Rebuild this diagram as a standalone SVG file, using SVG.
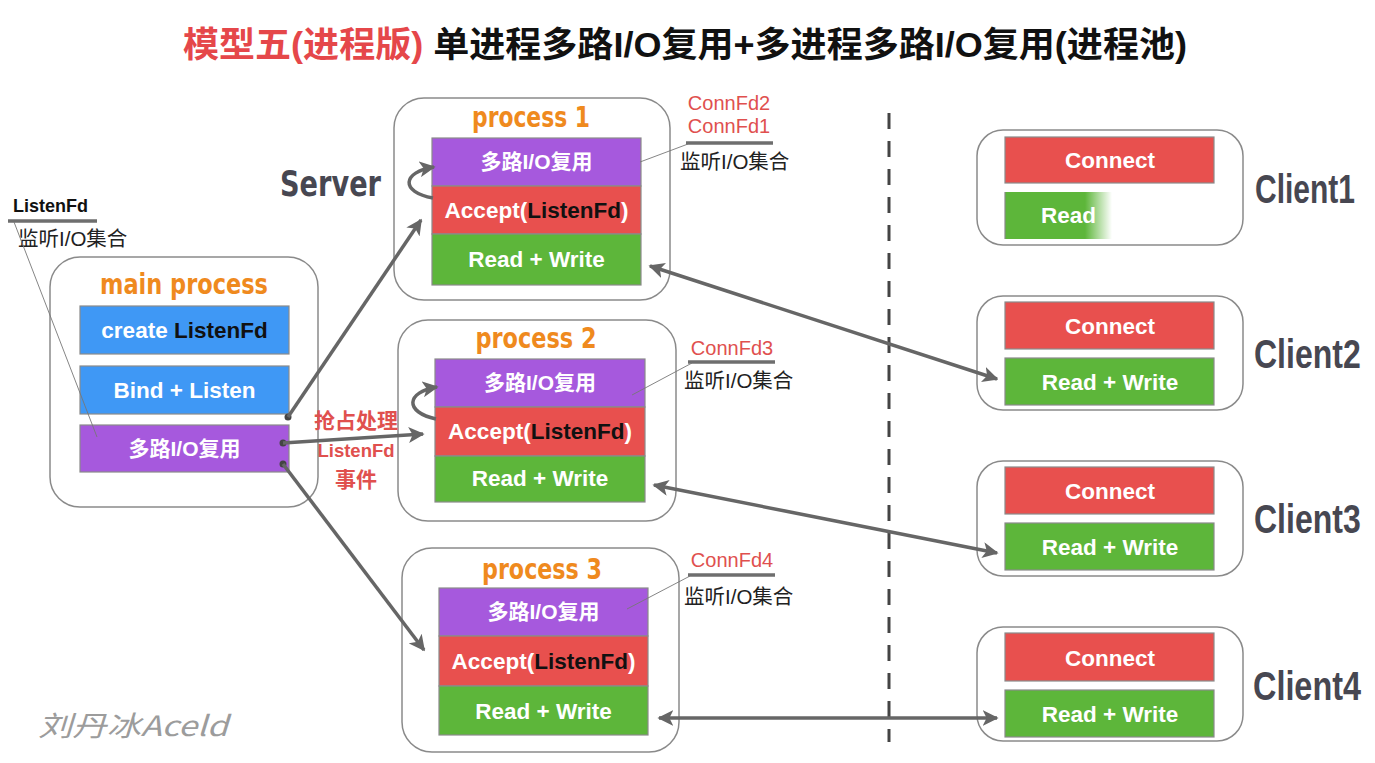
<svg xmlns="http://www.w3.org/2000/svg" width="1375" height="763" viewBox="0 0 1375 763">
<defs>
<style>
.outer{fill:#fff;stroke:#8a8a8a;stroke-width:1.5}
.box{stroke:#8a8a8a;stroke-width:1.2}
.blue{fill:#3f98f5}
.purple{fill:#a659dd}
.red{fill:#e8504e}
.green{fill:#5db63a}
.bt{font-family:"Liberation Sans","Noto Sans CJK SC",sans-serif;font-weight:bold;font-size:22.5px;fill:#fff;text-anchor:middle}
.cjk{font-size:21px}
.blk{fill:#111}
.hand{font-family:"DejaVu Sans","Liberation Sans",sans-serif;font-weight:bold;font-stretch:condensed}
.orange{fill:#ef8a1e;font-size:28px;text-anchor:middle}
.gray{fill:#474751}
.cl{font-family:"Liberation Sans",sans-serif;font-weight:bold;font-size:40px;fill:#474751}
.conn{font-family:"Liberation Sans",sans-serif;font-size:20px;fill:#e0504e;text-anchor:middle}
.set{font-family:"Liberation Sans","Noto Sans CJK SC",sans-serif;font-size:20.5px;fill:#222}
.ul{stroke:#6e6e6e;stroke-width:3.5}
.thin{stroke:#777;stroke-width:0.9;fill:none}
.arr{stroke:#666;stroke-width:3.5;fill:none}
.lbl{font-family:"Liberation Sans","Noto Sans CJK SC",sans-serif;font-weight:bold;fill:#e0504e;text-anchor:middle}
</style>
<marker id="ah" viewBox="0 0 10 10" refX="9" refY="5" markerWidth="16" markerHeight="16" markerUnits="userSpaceOnUse" orient="auto-start-reverse">
<path d="M0,0 L10,5 L0,10 L2.5,5 z" fill="#666"/>
</marker>
<linearGradient id="fade" gradientUnits="userSpaceOnUse" x1="1085" y1="0" x2="1112" y2="0">
<stop offset="0" stop-color="#5db63a" stop-opacity="1"/>
<stop offset="1" stop-color="#5db63a" stop-opacity="0"/>
</linearGradient>
</defs>
<rect width="1375" height="763" fill="#fff"/>

<g id="title" font-family="Liberation Sans,'Noto Sans CJK SC',sans-serif" font-weight="bold" font-size="35">
<text x="183" y="57" textLength="1004" lengthAdjust="spacingAndGlyphs"><tspan fill="#e5474a">模型五(进程版)</tspan><tspan fill="#111"> 单进程多路I/O复用+多进程多路I/O复用(进程池)</tspan></text>
</g>

<g id="main-process">
<rect class="outer" x="50" y="257" width="268" height="250" rx="30"/>
<text class="hand orange" x="184" y="294" textLength="168" lengthAdjust="spacingAndGlyphs">main process</text>
<rect class="box blue" x="80" y="306" width="209" height="48"/>
<text class="bt" x="184.5" y="338">create <tspan class="blk">ListenFd</tspan></text>
<rect class="box blue" x="80" y="366" width="209" height="48"/>
<text class="bt" x="184.5" y="398">Bind + Listen</text>
<rect class="box purple" x="80" y="425" width="209" height="47"/>
<text class="bt cjk" x="184.5" y="456">多路I/O复用</text>
</g>

<g id="listenfd-note">
<text x="13" y="212" font-family="Liberation Sans,sans-serif" font-weight="bold" font-size="18" fill="#111">ListenFd</text>
<line class="ul" x1="8" y1="221" x2="97" y2="221"/>
<text class="set" x="18" y="246">监听I/O集合</text>
<line class="thin" x1="14" y1="222" x2="97" y2="437"/>
</g>

<g id="server-label">
<text class="hand gray" x="280" y="196" font-size="36" textLength="101" lengthAdjust="spacingAndGlyphs">Server</text>
</g>

<g id="process1">
<rect class="outer" x="394" y="98" width="276" height="202" rx="30"/>
<text class="hand orange" x="531" y="127" textLength="118" lengthAdjust="spacingAndGlyphs">process 1</text>
<rect class="box purple" x="432" y="138" width="209" height="48"/>
<text class="bt cjk" x="536.5" y="169">多路I/O复用</text>
<rect class="box red" x="432" y="186" width="209" height="48"/>
<text class="bt" x="536.5" y="218">Accept(<tspan class="blk">ListenFd</tspan>)</text>
<rect class="box green" x="432" y="234" width="209" height="51"/>
<text class="bt" x="536.5" y="267">Read + Write</text>
<text class="conn" x="729" y="110">ConnFd2</text>
<text class="conn" x="729" y="133">ConnFd1</text>
<line class="ul" x1="686" y1="143" x2="773" y2="143"/>
<text class="set" x="680" y="169">监听I/O集合</text>
<line class="thin" x1="688" y1="144" x2="640" y2="162"/>
</g>

<g id="process2">
<rect class="outer" x="398" y="320" width="278" height="201" rx="30"/>
<text class="hand orange" x="536" y="348" textLength="121" lengthAdjust="spacingAndGlyphs">process 2</text>
<rect class="box purple" x="435" y="359" width="210" height="48"/>
<text class="bt cjk" x="540" y="390">多路I/O复用</text>
<rect class="box red" x="435" y="407" width="210" height="49"/>
<text class="bt" x="540" y="439">Accept(<tspan class="blk">ListenFd</tspan>)</text>
<rect class="box green" x="435" y="456" width="210" height="46"/>
<text class="bt" x="540" y="486">Read + Write</text>
<text class="conn" x="732" y="355">ConnFd3</text>
<line class="ul" x1="688" y1="362" x2="775" y2="362"/>
<text class="set" x="684" y="388">监听I/O集合</text>
<line class="thin" x1="692" y1="363" x2="632" y2="395"/>
</g>

<g id="process3">
<rect class="outer" x="402" y="548" width="277" height="204" rx="30"/>
<text class="hand orange" x="542" y="579" textLength="120" lengthAdjust="spacingAndGlyphs">process 3</text>
<rect class="box purple" x="439" y="588" width="209" height="48"/>
<text class="bt cjk" x="543.5" y="619">多路I/O复用</text>
<rect class="box red" x="439" y="636" width="209" height="50"/>
<text class="bt" x="543.5" y="669">Accept(<tspan class="blk">ListenFd</tspan>)</text>
<rect class="box green" x="439" y="686" width="209" height="49"/>
<text class="bt" x="543.5" y="719">Read + Write</text>
<text class="conn" x="732" y="567">ConnFd4</text>
<line class="ul" x1="688" y1="575" x2="775" y2="575"/>
<text class="set" x="684" y="604">监听I/O集合</text>
<line class="thin" x1="690" y1="576" x2="627" y2="609"/>
</g>

<g id="divider">
<line x1="889" y1="113" x2="889" y2="742" stroke="#444" stroke-width="3" stroke-dasharray="16 12"/>
</g>

<g id="client1">
<rect class="outer" x="977" y="130" width="266" height="115" rx="26"/>
<rect class="box red" x="1005" y="137" width="209" height="46"/>
<text class="bt" x="1110" y="168">Connect</text>
<rect x="1005" y="192" width="107" height="47" fill="url(#fade)"/>
<line x1="1005" y1="192" x2="1005" y2="239" stroke="#8a8a8a" stroke-width="1.2"/>
<text class="bt" x="1041" y="223" style="text-anchor:start">Read</text>
<text class="cl" transform="translate(1255,203) scale(0.75,1)">Client1</text>
</g>

<g id="client2">
<rect class="outer" x="977" y="296" width="266" height="114" rx="26"/>
<rect class="box red" x="1005" y="302" width="209" height="47"/>
<text class="bt" x="1110" y="334">Connect</text>
<rect class="box green" x="1005" y="358" width="209" height="47"/>
<text class="bt" x="1110" y="390">Read + Write</text>
<text class="cl" transform="translate(1254,368) scale(0.8,1)">Client2</text>
</g>

<g id="client3">
<rect class="outer" x="977" y="461" width="266" height="115" rx="26"/>
<rect class="box red" x="1005" y="467" width="209" height="47"/>
<text class="bt" x="1110" y="499">Connect</text>
<rect class="box green" x="1005" y="523" width="209" height="47"/>
<text class="bt" x="1110" y="555">Read + Write</text>
<text class="cl" transform="translate(1254,533) scale(0.8,1)">Client3</text>
</g>

<g id="client4">
<rect class="outer" x="977" y="627" width="266" height="114" rx="26"/>
<rect class="box red" x="1005" y="633" width="209" height="48"/>
<text class="bt" x="1110" y="666">Connect</text>
<rect class="box green" x="1005" y="690" width="209" height="47"/>
<text class="bt" x="1110" y="722">Read + Write</text>
<text class="cl" transform="translate(1253,700) scale(0.81,1)">Client4</text>
</g>

<g id="connectors">
<circle cx="288" cy="417" r="3.5" fill="#444"/>
<path class="arr" d="M288,417 L421,220" marker-end="url(#ah)"/>
<circle cx="283" cy="443" r="3.5" fill="#444"/>
<path class="arr" d="M283,443 L423,434" marker-end="url(#ah)"/>
<circle cx="283" cy="464" r="3.5" fill="#444"/>
<path class="arr" d="M283,464 L424,650" marker-end="url(#ah)"/>
<path class="arr" d="M433,198 C400,192 402,172 434,167" marker-end="url(#ah)"/>
<path class="arr" d="M436,419 C404,412 406,392 437,387" marker-end="url(#ah)"/>
<path class="arr" d="M650,266 L997,379" marker-start="url(#ah)" marker-end="url(#ah)"/>
<path class="arr" d="M654,485 L997,553" marker-start="url(#ah)" marker-end="url(#ah)"/>
<path class="arr" d="M659,718 L997,718" marker-start="url(#ah)" marker-end="url(#ah)"/>
<text class="lbl" x="356" y="428" font-size="21">抢占处理</text>
<text class="lbl" x="356" y="457" font-size="18.5">ListenFd</text>
<text class="lbl" x="356" y="487" font-size="21">事件</text>
</g>

<g id="watermark">
<text x="38" y="736" font-family="'Noto Sans CJK SC',sans-serif" font-style="italic" font-size="28" fill="#9c9c9c" textLength="190" lengthAdjust="spacingAndGlyphs">刘丹冰Aceld</text>
</g>
</svg>
